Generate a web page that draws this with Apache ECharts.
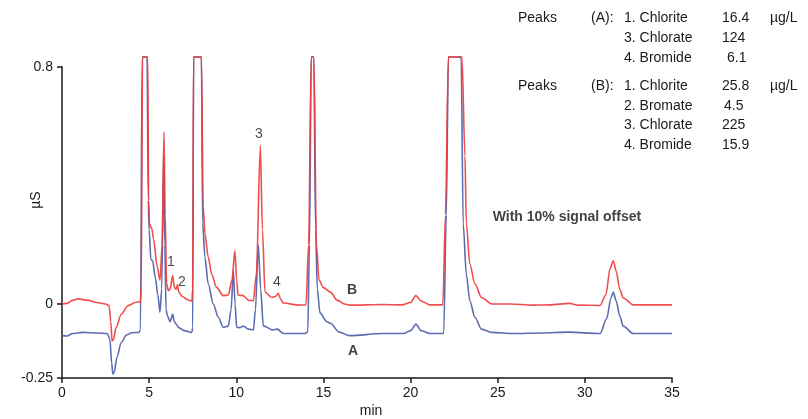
<!DOCTYPE html>
<html>
<head>
<meta charset="utf-8">
<script src="https://cdn.jsdelivr.net/npm/echarts@6/dist/echarts.min.js"></script>
<style>html,body{margin:0;padding:0;background:#fff}#c{width:808px;height:419px}</style>
</head>
<body>
<div id="c"></div>
<script>
// ---- Data ----
const bTime = [0,0.3,0.6,0.9,1.5,2.0,2.5,2.7,2.8,2.87,2.95,3.1,3.4,3.8,4.2,4.5,4.55,4.62,4.92,4.97,5.02,5.15,5.25,5.45,5.62,5.75,5.85,5.92,6.0,6.1,6.2,6.35,6.45,6.55,6.62,6.7,6.9,7.2,7.45,7.5,7.55,8.0,8.1,8.2,8.39,8.59,8.87,9.25,9.54,9.75,9.92,10.02,10.1,10.4,10.55,10.7,10.98,11.15,11.38,11.5,11.65,12.03,12.25,12.41,12.55,12.7,13.6,14.0,14.15,14.3,14.45,14.6,14.75,15.0,15.4,15.8,16.2,16.5,18.4,19.5,20.0,20.3,20.6,21.1,21.85,22.0,22.17,22.95,23.12,23.2,23.4,23.69,24.07,24.65,25.7,27,28,29.1,29.6,30.87,31.2,31.45,31.63,31.8,32.0,32.2,32.78,35];
const bSignal = [0.0,0.002,0.012,0.017,0.012,0.005,0.0,-0.005,-0.06,-0.125,-0.12,-0.08,-0.035,-0.005,0.005,0.008,0.06,0.834,0.834,0.35,0.27,0.255,0.22,0.13,0.08,0.2,0.58,0.3,0.07,0.045,0.05,0.096,0.055,0.05,0.065,0.04,0.025,0.014,0.01,0.05,0.834,0.834,0.33,0.237,0.158,0.10,0.056,0.028,0.03,0.08,0.18,0.08,0.03,0.028,0.02,0.012,0.011,0.1,0.535,0.25,0.04,0.022,0.025,0.036,0.015,0.003,-0.004,-0.003,0.2,0.834,0.834,0.2,0.08,0.055,0.04,0.012,0.0,-0.004,-0.002,-0.003,0.005,0.028,0.01,-0.003,-0.003,0.3,0.834,0.834,0.5,0.27,0.135,0.068,0.022,0.0,0.0,-0.004,-0.003,0.002,-0.004,-0.005,0.03,0.12,0.146,0.11,0.05,0.02,-0.003,-0.003];

const aTime = [0,0.3,0.6,1.2,2.0,2.6,2.75,2.85,2.92,3.0,3.15,3.4,3.7,4.0,4.4,4.5,4.6,4.88,4.95,5.0,5.1,5.2,5.35,5.5,5.62,5.72,5.83,5.9,5.97,6.05,6.2,6.35,6.45,6.55,6.7,7.0,7.45,7.5,7.55,8.0,8.07,8.2,8.39,8.68,8.97,9.25,9.54,9.7,9.83,9.93,10.02,10.2,10.4,10.7,10.98,11.1,11.26,11.4,11.55,12.1,12.35,12.7,13.9,14.1,14.2,14.3,14.45,14.55,14.65,14.8,15.2,15.4,15.9,16.5,18.4,19.6,20.0,20.31,20.6,21.1,21.9,22.05,22.17,22.9,23.02,23.2,23.4,23.69,24.07,24.65,25.9,27.5,29.1,30.87,31.25,31.5,31.63,31.8,32.0,32.2,32.78,35];
const aSignal = [-0.107,-0.108,-0.1,-0.096,-0.098,-0.1,-0.12,-0.2,-0.237,-0.23,-0.18,-0.13,-0.105,-0.097,-0.096,-0.09,0.834,0.834,0.35,0.25,0.15,0.146,0.09,0.03,-0.028,0.05,0.5,0.2,-0.02,-0.04,-0.06,-0.035,-0.06,-0.068,-0.08,-0.09,-0.096,-0.08,0.834,0.834,0.27,0.158,0.068,0.0,-0.045,-0.079,-0.075,-0.02,0.113,0.0,-0.079,-0.08,-0.075,-0.085,-0.088,-0.02,0.2,0.05,-0.074,-0.088,-0.085,-0.1,-0.1,-0.095,0.2,0.834,0.834,0.25,0.05,-0.03,-0.06,-0.065,-0.095,-0.107,-0.1,-0.1,-0.09,-0.068,-0.09,-0.1,-0.1,0.3,0.834,0.834,0.27,0.10,0.011,-0.045,-0.085,-0.096,-0.1,-0.098,-0.095,-0.1,-0.05,0.02,0.04,0.01,-0.04,-0.075,-0.1,-0.1];

// peak / trace labels: [time, signal, text]
const peakLabels = [[6.25,0.14,'1'],[6.88,0.072,'2'],[11.3,0.575,'3'],[12.33,0.072,'4']];
const traceLabels = [[16.64,0.045,'B'],[16.7,-0.161,'A'],[28.97,0.292,'With 10% signal offset']];

const yTickValues = [-0.25, 0, 0.8];

const legendRows = [
  ['Peaks','(A):','1. Chlorite','16.4','µg/L'],
  ['','','3. Chlorate','124',''],
  ['','','4. Bromide','6.1',''],
  ['Peaks','(B):','1. Chlorite','25.8','µg/L'],
  ['','','2. Bromate','4.5',''],
  ['','','3. Chlorate','225',''],
  ['','','4. Bromide','15.9','']
];

// ---- Chart ----
const zip = (t, v) => t.map((x, i) => [x, v[i]]);
const FONT = '"Liberation Sans", Arial, sans-serif';
const chart = echarts.init(document.getElementById('c'), null, {renderer: 'canvas'});

const rowY = [19, 39, 59, 87, 107, 126, 146];
const colX = [518, 591, 624, 722, 770];
const valueXOffset = {'6.1': 5, '4.5': 2};
const graphics = [];
legendRows.forEach((row, r) => {
  row.forEach((txt, c) => {
    if (!txt) return;
    let x = colX[c];
    if (c === 3 && valueXOffset[txt]) x += valueXOffset[txt];
    graphics.push({type: 'text', left: x, top: rowY[r] - 8,
      style: {text: txt, font: '14px ' + FONT, fill: '#1a1a1a'}});
  });
});
graphics.push({type: 'text', x: 36, y: 200, rotation: Math.PI / 2,
  style: {text: 'µS', font: '14px ' + FONT, fill: '#1a1a1a', align: 'center', verticalAlign: 'middle'}});
graphics.push({type: 'text', x: 371, y: 411,
  style: {text: 'min', font: '14px ' + FONT, fill: '#1a1a1a', align: 'center', verticalAlign: 'middle'}});

chart.setOption({
  animation: false,
  backgroundColor: '#fff',
  grid: {left: 62, right: 136, top: 67, bottom: 41},
  xAxis: {
    type: 'value', min: 0, max: 35, interval: 5,
    axisLine: {onZero: false, lineStyle: {color: '#1a1a1a', width: 1.5}},
    axisTick: {show: true, length: 5, lineStyle: {color: '#1a1a1a', width: 1.5}},
    axisLabel: {color: '#1a1a1a', fontSize: 14, fontFamily: FONT, margin: 8},
    splitLine: {show: false}
  },
  yAxis: {
    type: 'value', min: -0.25, max: 0.8,
    axisLine: {show: true, lineStyle: {color: '#1a1a1a', width: 1.5}},
    axisTick: {show: true, length: 5, customValues: yTickValues, lineStyle: {color: '#1a1a1a', width: 1.5}},
    axisLabel: {color: '#1a1a1a', fontSize: 14, fontFamily: FONT, margin: 9, customValues: yTickValues,
      formatter: v => String(v)},
    splitLine: {show: false}
  },
  graphic: graphics,
  series: [
    {name: 'A', type: 'line', data: zip(aTime, aSignal), showSymbol: false, clip: false,
      smooth: 0.3, smoothMonotone: 'x',
      lineStyle: {color: '#4b5ca9', width: 1.6, opacity: 0.9}},
    {name: 'B', type: 'line', data: zip(bTime, bSignal), showSymbol: false, clip: false,
      smooth: 0.3, smoothMonotone: 'x',
      lineStyle: {color: '#ef3a3a', width: 1.6, opacity: 0.9}},
    {type: 'scatter', data: peakLabels, symbolSize: 0, silent: true,
      label: {show: true, position: 'inside', formatter: p => p.data[2], color: '#1a1a1a', fontSize: 14, fontFamily: FONT}},
    {type: 'scatter', data: traceLabels, symbolSize: 0, silent: true,
      label: {show: true, position: 'inside', formatter: p => p.data[2], color: '#111', fontSize: 14, fontWeight: 'bold', fontFamily: FONT}}
  ]
});
</script>
</body>
</html>
